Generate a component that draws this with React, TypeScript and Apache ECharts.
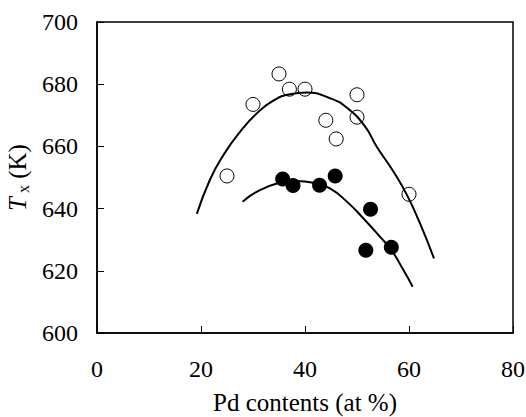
import React, { useEffect, useRef } from "react";
import * as echarts from "echarts";

// Open circles (upper series)
const openPd = [25, 30, 35, 37, 40, 44, 46, 50, 50, 60];
const openTx = [650.5, 673.5, 683.3, 678.4, 678.4, 668.4, 662.4, 676.6, 669.4, 644.6];

// Filled circles (lower series)
const filledPd = [35.7, 37.7, 42.8, 45.8, 52.6, 51.7, 56.6];
const filledTx = [649.5, 647.4, 647.5, 650.5, 639.8, 626.6, 627.6];

// Fitted curve through open circles
const fitOpenPd = [19.2, 21.7, 24.3, 27.5, 30.7, 33.9, 37.1, 40.3, 44.8, 48.0, 51.5, 53.8, 57.0, 59.6, 62.1, 64.8];
const fitOpenTx = [638.3, 649.2, 657.2, 664.7, 670.6, 674.7, 676.8, 677.3, 675.5, 672.5, 666.5, 659.9, 651.9, 644.4, 635.3, 624.0];

// Fitted curve through filled circles
const fitFilledPd = [28.0, 30.7, 34.6, 38.4, 41.6, 44.8, 48.2, 51.2, 54.4, 56.6, 58.9, 60.7];
const fitFilledTx = [642.2, 645.4, 648.1, 648.9, 648.3, 646.5, 642.0, 636.9, 631.0, 626.7, 620.3, 614.9];

const xTicks = { min: 0, max: 80, interval: 20 };
const yTicks = { min: 600, max: 700, interval: 20 };

const zip = (a: number[], b: number[]) => a.map((v, i) => [v, b[i]]);

export default function App() {
  const ref = useRef<HTMLDivElement>(null);
  useEffect(() => {
    if (!ref.current) return;
    const chart = echarts.init(ref.current, undefined, { renderer: "svg" });
    const font = "Liberation Serif";
    const tickRich = { a: { fontFamily: font, fontSize: 24, color: "#000" } };
    chart.setOption({
      animation: false,
      textStyle: { fontFamily: font, color: "#000" },
      grid: {
        left: 97,
        right: 13,
        top: 22,
        bottom: 84,
        containLabel: false,
        outerBoundsMode: "none",
        show: true,
        borderColor: "#000",
        borderWidth: 1.5,
        backgroundColor: "transparent",
      },
      xAxis: {
        type: "value",
        min: xTicks.min,
        max: xTicks.max,
        interval: xTicks.interval,
        name: "Pd contents (at %)",
        nameLocation: "middle",
        nameGap: 57,
        nameTextStyle: { fontFamily: font, fontSize: 25, color: "#000" },
        axisLine: { show: true, lineStyle: { color: "#000", width: 1.5 } },
        axisTick: { show: true, inside: true, length: 7, lineStyle: { color: "#000", width: 1 } },
        axisLabel: {
          fontFamily: font,
          fontSize: 24,
          color: "#000",
          margin: 24,
          formatter: "{a|{value}}",
          rich: tickRich,
        },
        splitLine: { show: false },
      },
      yAxis: {
        type: "value",
        min: yTicks.min,
        max: yTicks.max,
        interval: yTicks.interval,
        name: "{t|T}{s| x} (K)",
        nameLocation: "middle",
        nameGap: 64,
        nameRotate: 90,
        nameTextStyle: {
          fontFamily: font,
          fontSize: 25,
          color: "#000",
          rich: {
            t: { fontFamily: font, fontSize: 25, fontStyle: "italic", color: "#000" },
            s: { fontFamily: font, fontSize: 16, color: "#000", verticalAlign: "bottom", lineHeight: 28 },
          },
        },
        axisLine: { show: true, lineStyle: { color: "#000", width: 1.5 } },
        axisTick: { show: true, inside: true, length: 7, lineStyle: { color: "#000", width: 1 } },
        axisLabel: {
          fontFamily: font,
          fontSize: 24,
          color: "#000",
          margin: 19,
          formatter: "{a|{value}}",
          rich: tickRich,
        },
        splitLine: { show: false },
      },
      series: [
        {
          type: "line",
          data: zip(fitOpenPd, fitOpenTx),
          smooth: 0.5,
          showSymbol: false,
          symbol: "none",
          lineStyle: { color: "#000", width: 2 },
          z: 2,
        },
        {
          type: "line",
          data: zip(fitFilledPd, fitFilledTx),
          smooth: 0.5,
          showSymbol: false,
          symbol: "none",
          lineStyle: { color: "#000", width: 2 },
          z: 2,
        },
        {
          type: "scatter",
          data: zip(openPd, openTx),
          symbol: "circle",
          symbolSize: 14,
          itemStyle: { color: "transparent", borderColor: "#000", borderWidth: 1, opacity: 1 },
          z: 3,
        },
        {
          type: "scatter",
          data: zip(filledPd, filledTx),
          symbol: "circle",
          symbolSize: 15,
          itemStyle: { color: "#000", borderColor: "#000", borderWidth: 0, opacity: 1 },
          z: 4,
        },
      ],
    });
    return () => chart.dispose();
  }, []);
  return <div ref={ref} style={{ width: 526, height: 417, position: "absolute", left: 0, top: 0 }} />;
}
